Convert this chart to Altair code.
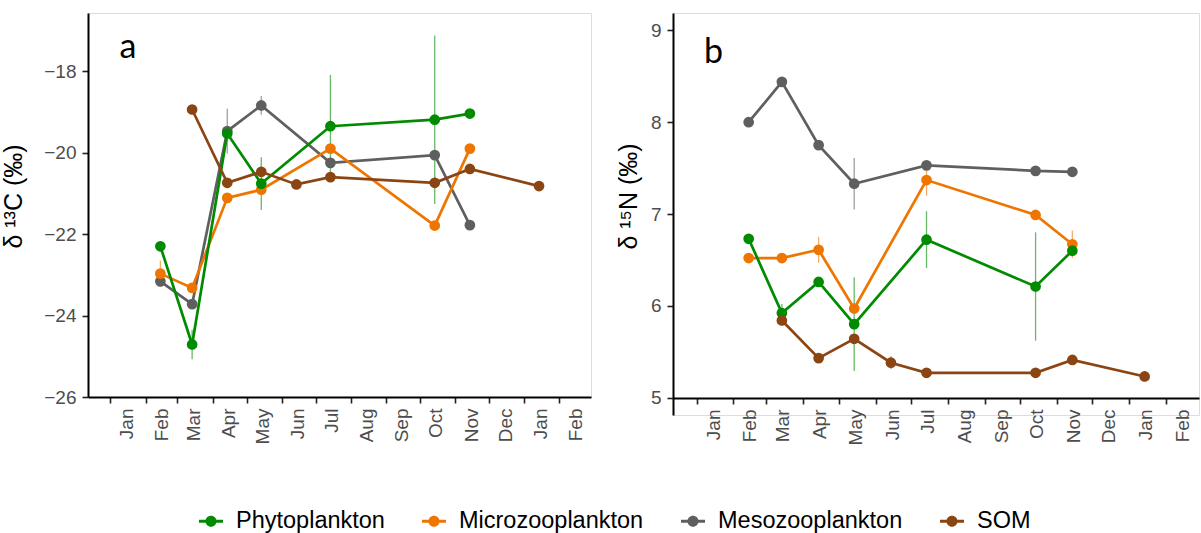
import altair as alt
import pandas as pd

series = ["Phytoplankton", "Microzooplankton", "Mesozooplankton", "SOM"]
colors = ["#008B00", "#EE7600", "#5F5F5F", "#8B4513"]
draw_order = ["Mesozooplankton", "Microzooplankton", "Phytoplankton", "SOM"]

dates = ["2019-02-14", "2019-03-14", "2019-04-14", "2019-05-14", "2019-06-14",
         "2019-07-14", "2019-10-14", "2019-11-14", "2020-01-14"]

# delta 13C (panel a)
c13 = {
    "Phytoplankton":    [-22.30, -24.71, -19.53, -20.76, None, -19.35, -19.19, -19.04, None],
    "Microzooplankton": [-22.97, -23.32, -21.11, -20.91, None, -19.90, -21.79, -19.90, None],
    "Mesozooplankton":  [-23.16, -23.72, -19.47, -18.84, None, -20.25, -20.06, -21.78, None],
    "SOM":              [None, -18.94, -20.74, -20.47, -20.78, -20.60, -20.74, -20.40, -20.82],
}
c13_sd = {
    "Phytoplankton":    [None, 0.36, None, 0.65, None, 1.26, 2.07, None, None],
    "Microzooplankton": [0.32, None, None, None, None, None, None, None, None],
    "Mesozooplankton":  [None, None, 0.55, 0.23, None, None, None, None, None],
    "SOM":              [None, None, None, None, None, None, None, None, None],
}
# delta 15N (panel b)
n15 = {
    "Phytoplankton":    [6.73, 5.92, 6.26, 5.80, None, 6.72, 6.21, 6.60, None],
    "Microzooplankton": [6.52, 6.52, 6.61, 5.97, None, 7.37, 6.99, 6.67, None],
    "Mesozooplankton":  [8.00, 8.44, 7.75, 7.33, None, 7.53, 7.47, 7.46, None],
    "SOM":              [None, 5.84, 5.43, 5.64, 5.38, 5.27, 5.27, 5.41, 5.23],
}
n15_sd = {
    "Phytoplankton":    [None, 0.10, None, 0.51, None, 0.31, 0.59, None, None],
    "Microzooplankton": [None, 0.05, 0.14, None, None, 0.17, None, 0.15, None],
    "Mesozooplankton":  [None, None, None, 0.28, None, None, None, None, None],
    "SOM":              [None, None, None, None, 0.07, None, None, None, None],
}

c13_ticks = [-26, -24, -22, -20, -18]
n15_ticks = [5, 6, 7, 8, 9]
panel_letters = ["a", "b"]


def build(vals, sds):
    rows = []
    for s in draw_order:
        for d, v, e in zip(dates, vals[s], sds[s]):
            if v is None:
                continue
            rows.append({"date": d, "series": s, "value": v,
                         "lo": None if e is None else v - e,
                         "hi": None if e is None else v + e})
    return pd.DataFrame(rows)


df_a = build(c13, c13_sd)
df_b = build(n15, n15_sd)

xdomain = [alt.DateTime(year=2018, month=12, date=12, hours=4, utc=True),
           alt.DateTime(year=2020, month=2, date=28, hours=20, utc=True)]

sym = "M-1,-0.12H1V0.12H-1Z M0.46,0A0.46,0.46,0,1,1,-0.46,0A0.46,0.46,0,1,1,0.46,0Z"

legend = alt.Legend(orient="none", direction="horizontal", title=None,
                    legendX=111, legendY=496, symbolType=sym, symbolSize=576,
                    symbolStrokeWidth=0, symbolOpacity=1, labelFontSize=23.5,
                    labelFont="Liberation Sans", labelColor="black",
                    labelOffset=13, columnPadding=37, labelLimit=400)


def panel(df, ydomain, yticks, ytitle, width, height, letter, lx, ly,
          title_pad, label_offset, x_offset):
    color = alt.Color("series:N", scale=alt.Scale(domain=series, range=colors),
                      legend=legend)
    x = alt.X("date:T", title=None,
              scale=alt.Scale(type="utc", domain=xdomain),
              axis=alt.Axis(format="%b", tickCount={"interval": "month", "step": 1},
                            labelAngle=270, labelAlign="right", labelBaseline="middle",
                            labelOffset=label_offset, labelPadding=5, labelFontSize=19,
                            labelColor="#4D4D4D", labelFont="Liberation Sans",
                            labelOverlap=False, labelFlush=False, labelBound=False,
                            tickSize=6, tickColor="#222222", tickWidth=1.6,
                            domainColor="black", domainWidth=2, grid=False,
                            offset=x_offset))
    y = alt.Y("value:Q", title=ytitle,
              scale=alt.Scale(domain=ydomain, nice=False, zero=False),
              axis=alt.Axis(values=yticks, format="d", labelFontSize=19,
                            labelColor="#4D4D4D",
                            labelFont="Liberation Sans", labelPadding=6,
                            tickSize=6, tickColor="#222222", tickWidth=1.6,
                            domainColor="black", domainWidth=2, grid=False,
                            titleFontSize=25, titleFont="Liberation Sans",
                            titleFontWeight="normal", titleColor="black",
                            titlePadding=title_pad, titleY=183))
    base = alt.Chart(df)
    lines = base.mark_line(strokeWidth=2.7).encode(x=x, y=y, color=color)
    errs = base.transform_filter("isValid(datum.lo)").mark_rule(
        strokeWidth=1.3, opacity=0.6).encode(x=x, y=alt.Y("lo:Q"), y2="hi:Q", color=color)
    pts = base.mark_point(filled=True, size=115, opacity=1).encode(x=x, y=y, color=color)
    tag = alt.Chart(pd.DataFrame({"label": [letter]})).mark_text(
        align="left", baseline="alphabetic", fontSize=34, font="Lato",
        color="black").encode(text="label:N", x=alt.value(lx), y=alt.value(ly))
    return alt.layer(lines, errs, pts, tag).properties(width=width, height=height)


pa = panel(df_a, [-26, -16.57], c13_ticks, "δ ¹³C (‰)", 503, 384,
           panel_letters[0], 31.5, 45, 17, 16, 0)
pb = panel(df_b, [4.81, 9.19], n15_ticks, "δ ¹⁵N (‰)", 526, 402,
           panel_letters[1], 31, 50, 9, 16.5, -17)

chart = alt.hconcat(pa, pb, spacing=23).resolve_scale(
    x="independent", y="independent", color="shared"
).properties(padding={"left": 1, "top": 12, "right": 0, "bottom": 0}
).configure_view(stroke=None).configure(background="white")

chart.save("out.html", embed_options={"renderer": "svg", "actions": False})
